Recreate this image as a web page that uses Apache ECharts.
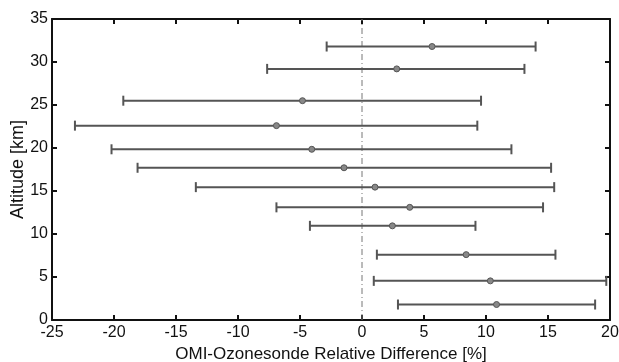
<!DOCTYPE html>
<html><head><meta charset="utf-8">
<script src="https://cdn.jsdelivr.net/npm/echarts@6/dist/echarts.min.js"></script>
<style>html,body{margin:0;padding:0;background:#fff}#c{width:619px;height:362px}</style>
</head><body><div id="c"></div>
<script>
const altitudes = [31.8, 29.2, 25.5, 22.6, 19.85, 17.7, 15.45, 13.1, 10.95, 7.6, 4.55, 1.8];
const lowers    = [-2.85, -7.65, -19.25, -23.15, -20.2, -18.1, -13.4, -6.9, -4.2, 1.2, 0.95, 2.9];
const means     = [5.65, 2.8, -4.8, -6.9, -4.05, -1.45, 1.05, 3.85, 2.45, 8.4, 10.35, 10.85];
const uppers    = [14.0, 13.1, 9.6, 9.3, 12.05, 15.25, 15.5, 14.6, 9.15, 15.6, 19.7, 18.8];
const xTicks = [-25, -20, -15, -10, -5, 0, 5, 10, 15, 20];
const yTicks = [0, 5, 10, 15, 20, 25, 30, 35];

const data = altitudes.map((a, i) => [lowers[i], means[i], uppers[i], a]);
const font = 'Liberation Sans, Arial, Helvetica, sans-serif';
const chart = echarts.init(document.getElementById('c'), null, {renderer: 'canvas'});
const lineColor = '#555';
const axBase = {
  axisLine: {show: true, onZero: false, lineStyle: {color: '#111', width: 2}},
  axisTick: {show: true, inside: true, length: 5, lineStyle: {color: '#111', width: 2}},
  splitLine: {show: false}
};
const lbl = {fontFamily: font, fontSize: 16, color: '#111'};
chart.setOption({
  animation: false,
  grid: {left: 52, right: 9, top: 19, bottom: 42, containLabel: false, outerBoundsMode: 'none'},
  xAxis: [
    Object.assign({type: 'value', min: -25, max: 20, interval: 5, position: 'bottom',
      name: 'OMI-Ozonesonde Relative Difference [%]', nameLocation: 'middle', nameGap: 26,
      nameMoveOverlap: false,
      nameTextStyle: {fontFamily: font, fontSize: 17, color: '#111'},
      axisLabel: Object.assign({margin: 5}, lbl)}, axBase),
    Object.assign({type: 'value', min: -25, max: 20, interval: 5, position: 'top',
      axisLabel: {show: false}}, axBase)
  ],
  yAxis: [
    Object.assign({type: 'value', min: 0, max: 35, interval: 5, position: 'left',
      name: 'Altitude [km]', nameLocation: 'middle', nameGap: 25,
      nameMoveOverlap: false,
      nameTextStyle: {fontFamily: font, fontSize: 18, color: '#111'},
      axisLabel: Object.assign({margin: 4}, lbl)}, axBase),
    Object.assign({type: 'value', min: 0, max: 35, interval: 5, position: 'right',
      axisLabel: {show: false}}, axBase)
  ],
  series: [
    {
      type: 'line', data: [[0, 0], [0, 35]], symbol: 'none', silent: true,
      lineStyle: {color: '#777', width: 1, type: [6, 3, 1, 3]}, z: 1
    },
    {
      type: 'custom', data: data, z: 3,
      renderItem: function (params, api) {
        const lo = api.coord([api.value(0), api.value(3)]);
        const mid = api.coord([api.value(1), api.value(3)]);
        const hi = api.coord([api.value(2), api.value(3)]);
        const h = 5;
        const st = {stroke: lineColor, lineWidth: 2, fill: null};
        return {type: 'group', children: [
          {type: 'line', shape: {x1: lo[0], y1: lo[1], x2: hi[0], y2: hi[1]}, style: st},
          {type: 'line', shape: {x1: lo[0], y1: lo[1] - h, x2: lo[0], y2: lo[1] + h}, style: st},
          {type: 'line', shape: {x1: hi[0], y1: hi[1] - h, x2: hi[0], y2: hi[1] + h}, style: st},
          {type: 'circle', shape: {cx: mid[0], cy: mid[1], r: 3}, style: {fill: '#888', stroke: '#555', lineWidth: 1}}
        ]};
      }
    }
  ]
});
</script></body></html>
